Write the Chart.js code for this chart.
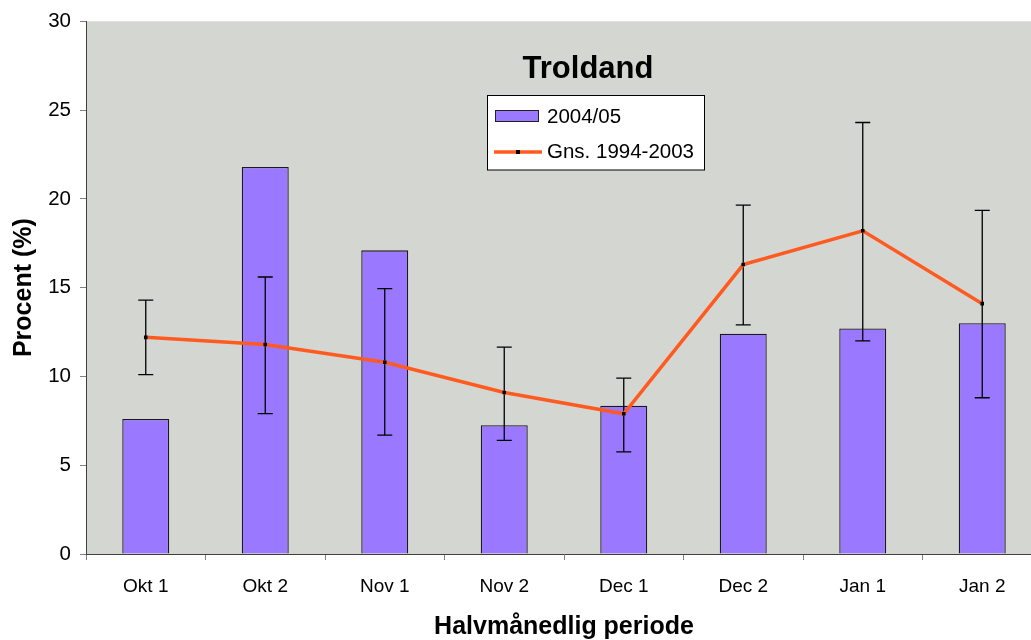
<!DOCTYPE html>
<html><head><meta charset="utf-8">
<script src="https://cdn.jsdelivr.net/npm/chart.js@4/dist/chart.umd.min.js"></script>
<style>html,body{margin:0;padding:0;background:#fff;overflow:hidden;width:1031px;height:640px}
#wrap{width:1046px;height:640px}</style></head>
<body><div id="wrap"><canvas id="c" width="1046" height="640"></canvas></div>
<script>
const categories = ['Okt 1','Okt 2','Nov 1','Nov 2','Dec 1','Dec 2','Jan 1','Jan 2'];
const season2004 = [7.6, 21.8, 17.1, 7.25, 8.35, 12.4, 12.7, 13.0];
const avg19942003 = [12.2, 11.8, 10.8, 9.1, 7.9, 16.3, 18.2, 14.1];
const errHigh = [14.3, 15.6, 14.95, 11.65, 9.9, 19.65, 24.3, 19.35];
const errLow = [10.1, 7.9, 6.7, 6.4, 5.75, 12.9, 12.0, 8.8];
const yTicks = [0, 5, 10, 15, 20, 25, 30];
const chartTitle = 'Troldand';
const seriesLabels = ['2004/05', 'Gns. 1994-2003'];
const xTitle = 'Halvmånedlig periode';
const yTitle = 'Procent (%)';

const BAR = '#9A78FF', LINE = '#FF5A1F', FONT = "'Liberation Sans', Arial, sans-serif";
Chart.defaults.font.family = FONT;
Chart.defaults.color = '#000';

const bgPlugin = { id:'bg', beforeDraw(chart){ const a=chart.chartArea, ctx=chart.ctx; ctx.save(); ctx.fillStyle='#D4D6D1'; ctx.fillRect(a.left,a.top,a.right-a.left,a.bottom-a.top); ctx.restore(); } };

const errorBars = { id:'errorBars', beforeDatasetDraw(chart,args){
  if(args.index!==1) return;
  const x=chart.scales.x, y=chart.scales.y, ctx=chart.ctx;
  ctx.save(); ctx.strokeStyle='#000'; ctx.lineWidth=1.3;
  categories.forEach((c,i)=>{
    const px=x.getPixelForValue(i), t=y.getPixelForValue(errHigh[i]), b=y.getPixelForValue(errLow[i]);
    ctx.beginPath();
    ctx.moveTo(px,t); ctx.lineTo(px,b);
    ctx.moveTo(px-7.5,t); ctx.lineTo(px+7.5,t);
    ctx.moveTo(px-7.5,b); ctx.lineTo(px+7.5,b);
    ctx.stroke();
  });
  ctx.restore();
}};

const overlay = { id:'overlay', afterDraw(chart){
  const ctx=chart.ctx; ctx.save();
  ctx.fillStyle='#000'; ctx.font='bold 31px '+FONT; ctx.textAlign='center'; ctx.textBaseline='middle';
  ctx.fillText(chartTitle, 588, 69);
  ctx.fillStyle='#fff'; ctx.fillRect(487.5,95.5,217,74.5);
  ctx.strokeStyle='#000'; ctx.lineWidth=1; ctx.strokeRect(487.5,95.5,217,74.5);
  ctx.fillStyle=BAR; ctx.fillRect(495.5,110.5,43,11);
  ctx.strokeStyle='#222'; ctx.strokeRect(495.5,110.5,43,11);
  ctx.strokeStyle=LINE; ctx.lineWidth=3.5; ctx.beginPath(); ctx.moveTo(494,152); ctx.lineTo(542,152); ctx.stroke();
  ctx.fillStyle='#000'; ctx.fillRect(516,150,4,4);
  ctx.font='20.5px '+FONT; ctx.textAlign='left';
  ctx.fillText(seriesLabels[0], 547, 117);
  ctx.fillText(seriesLabels[1], 547, 152);
  ctx.restore();
}};

new Chart(document.getElementById('c'), {
  type:'bar',
  data:{ labels:categories, datasets:[
    { type:'bar', label:seriesLabels[0], data:season2004, backgroundColor:BAR, borderColor:'#1a1a1a', borderWidth:1.3, barPercentage:0.393, categoryPercentage:1, order:2 },
    { type:'line', label:seriesLabels[1], data:avg19942003, borderColor:LINE, borderWidth:3.5, pointStyle:'rect', pointRadius:2.5, pointBackgroundColor:'#000', pointBorderWidth:0, tension:0, order:1 }
  ]},
  options:{
    responsive:false, animation:false, devicePixelRatio:1,
    layout:{ padding:{ top:20, right:4, left:0, bottom:0 } },
    plugins:{ legend:{display:false}, tooltip:{enabled:false}, title:{display:false} },
    scales:{
      x:{ offset:true,
        grid:{ offset:true, drawOnChartArea:false, drawTicks:true, tickLength:6, color:'#808080' },
        border:{ color:'#404040', width:1 },
        ticks:{ color:'#000', font:{size:19}, padding:15, maxRotation:0, autoSkip:false },
        title:{ display:true, text:xTitle, color:'#000', font:{size:25, weight:'bold', lineHeight:1}, padding:0 },
        afterFit(s){ s.height=86; }
      },
      y:{ min:0, max:30,
        afterBuildTicks(s){ s.ticks = yTicks.map(v=>({value:v})); },
        grid:{ drawOnChartArea:false, drawTicks:true, tickLength:6, color:'#808080' },
        border:{ color:'#404040', width:1 },
        ticks:{ color:'#000', font:{size:20.5}, padding:9 },
        title:{ display:true, text:yTitle, color:'#000', font:{size:25, weight:'bold', lineHeight:1}, padding:{top:12,bottom:0} },
        afterFit(s){ s.width=86; }
      }
    }
  },
  plugins:[bgPlugin, errorBars, overlay]
});
</script></body></html>
